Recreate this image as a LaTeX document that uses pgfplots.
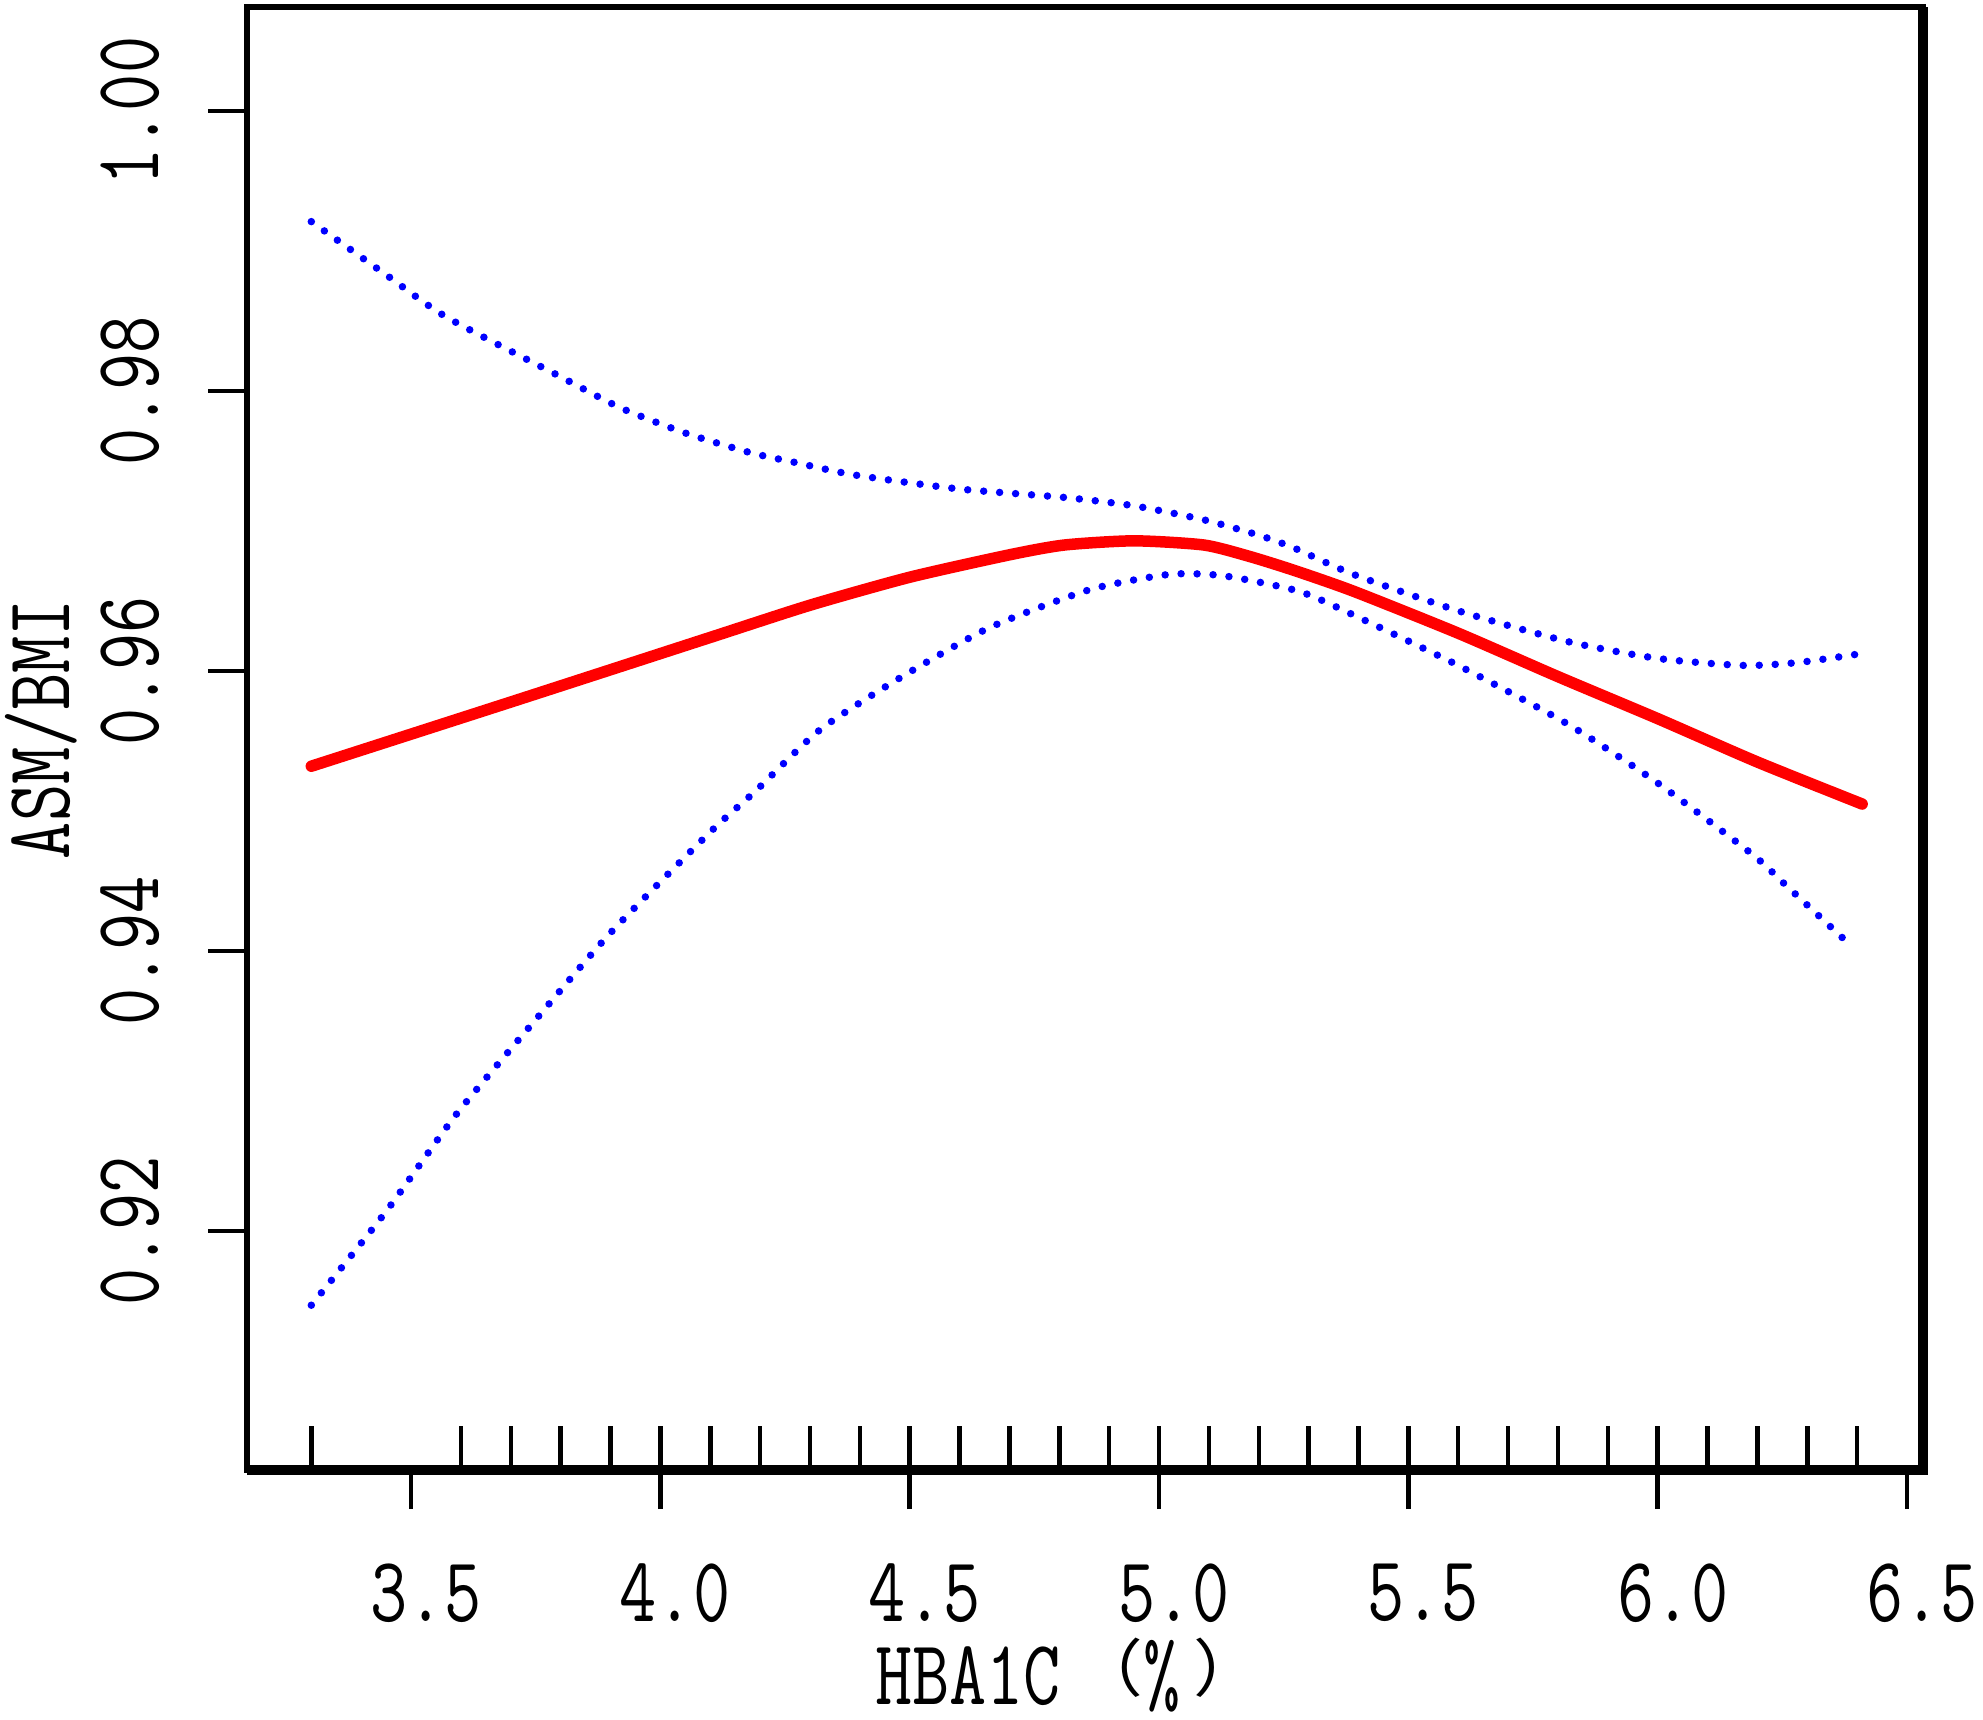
\documentclass[border=0pt]{standalone}
\usepackage{fontspec}
\setmainfont{Latin Modern Mono}[FakeStretch=0.78]
\newfontfamily\cjk{Noto Sans CJK SC}[FakeStretch=1.1]
\usepackage{pgfplots}
\usepackage{pgfplotstable}
\pgfplotsset{compat=1.18}
\usetikzlibrary{calc}

% fitted curve and 95% bounds
\pgfplotstableread{
x y
3.30 0.9532
3.71 0.9579
4.10 0.9624
4.30 0.9647
4.50 0.9667
4.70 0.9683
4.81 0.9690
4.95 0.9693
5.09 0.9690
5.18 0.9682
5.27 0.9672
5.39 0.9657
5.60 0.9627
5.80 0.9596
6.00 0.9566
6.20 0.9535
6.41 0.9505
}\fitdata

\pgfplotstableread{
x y
3.30 0.9921
3.45 0.9883
3.57 0.9853
3.79 0.9812
3.92 0.9788
4.05 0.9770
4.18 0.9756
4.27 0.9749
4.39 0.9740
4.60 0.9730
4.81 0.9724
4.95 0.9718
5.09 0.9708
5.20 0.9697
5.27 0.9688
5.39 0.9669
5.60 0.9643
5.82 0.9621
6.00 0.9609
6.17 0.9604
6.28 0.9606
6.40 0.9612
}\uptab

\pgfplotstableread{
x y
3.30 0.9147
3.45 0.9214
3.59 0.9283
3.75 0.9351
3.90 0.9413
4.10 0.9485
4.19 0.9514
4.32 0.9558
4.48 0.9595
4.66 0.9631
4.86 0.9658
5.02 0.9669
5.13 0.9668
5.28 0.9657
5.39 0.9640
5.60 0.9604
5.82 0.9562
6.00 0.9520
6.19 0.9469
6.26 0.9446
6.39 0.9403
}\lowtab

\newcommand\lab{\fontsize{18.5}{21}\selectfont}
\newcommand\paren[1]{\raisebox{2.6pt}{\cjk\fontsize{12.5}{12.5}\selectfont #1}}

\begin{document}
\begin{tikzpicture}
\begin{axis}[
    scale only axis,
    width=335.2pt, height=292.6pt,
    xmin=3.171, xmax=6.532,
    ymin=0.90293, ymax=1.00743,
    clip mode=individual,
    axis line style={line width=1.1pt},
    xtick={3.5,4.0,4.5,5.0,5.5,6.0,6.5},
    xticklabels={3.5,4.0,4.5,5.0,5.5,6.0,6.5},
    ytick={0.92,0.94,0.96,0.98,1.00},
    yticklabels={0.92,0.94,0.96,0.98,1.00},
    xtick pos=bottom, ytick pos=left,
    tick align=outside,
    major tick length=7.8pt,
    tick style={black, line width=0.9pt},
    extra x ticks={3.3,3.6,3.7,3.8,3.9,4.0,4.1,4.2,4.3,4.4,4.5,4.6,4.7,4.8,4.9,5.0,5.1,5.2,5.3,5.4,5.5,5.6,5.7,5.8,5.9,6.0,6.1,6.2,6.3,6.4},
    extra x tick labels={},
    extra x tick style={tick align=inside, major tick length=8.8pt},
    tick label style={font=\lab, inner sep=0pt},
    xticklabel style={anchor=north, yshift=-10.8pt, xshift=3pt},
    yticklabel style={xshift=-9.4pt, rotate=90, anchor=south},
]
\addplot[blue, line width=1.5pt, line cap=round, dash pattern=on 0pt off 3.2pt, smooth, tension=0.4] table {\uptab};
\addplot[blue, line width=1.5pt, line cap=round, dash pattern=on 0pt off 3.2pt, smooth, tension=0.4] table {\lowtab};
\addplot[red, line width=2.3pt, line cap=round, smooth, tension=0.4] table {\fitdata};

\draw[line width=2pt] (rel axis cs:0,0) -- (rel axis cs:1,0) -- (rel axis cs:1,1);
\coordinate (O) at (rel axis cs:0,0);
\coordinate (T) at (rel axis cs:1,1);
\end{axis}
\node[anchor=base, inner sep=0pt, font=\lab] at ($(O)+(164.4pt,-46.8pt)$) {HBA1C\kern2.7pt\paren{（}\%\kern2.7pt\paren{）}};
\node[rotate=90, anchor=base, inner sep=0pt, font=\lab] at ($(O)+(-35.5pt,148.2pt)$) {ASM/BMI};
\pgfresetboundingbox
\path ($(O)+(-49.4pt,-49.8pt)$) rectangle ($(T)+(12pt,1.4pt)$);
\end{tikzpicture}
\end{document}
